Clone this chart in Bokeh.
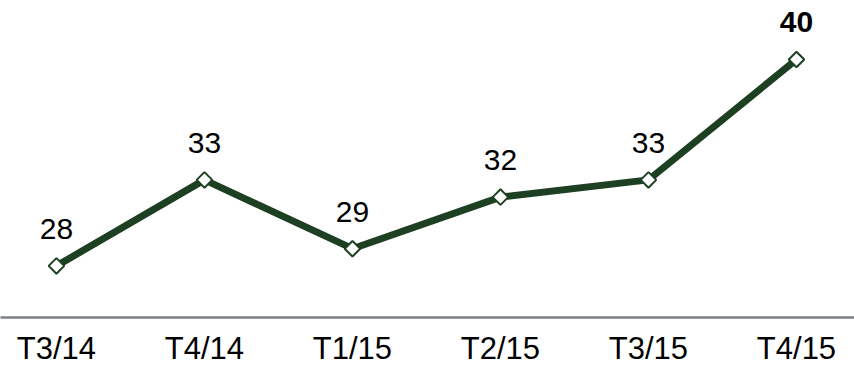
import math

from bokeh.core.properties import value
from bokeh.embed import file_html
from bokeh.models import ColumnDataSource, FixedTicker, Range1d
from bokeh.plotting import figure
from bokeh.resources import INLINE

# Quarterly series
quarters = ["T3/14", "T4/14", "T1/15", "T2/15", "T3/15", "T4/15"]
scores = [28, 33, 29, 32, 33, 40]

xs = list(range(len(quarters)))
labels = [str(v) for v in scores]

line_color = "#1d3f22"
font = "Liberation Sans"

src = ColumnDataSource(dict(x=xs, y=scores, label=labels))
last = ColumnDataSource(dict(x=xs[-1:], y=scores[-1:], label=labels[-1:]))
rest = ColumnDataSource(dict(x=xs[:-1], y=scores[:-1], label=labels[:-1]))

p = figure(
    width=854,
    height=368,
    output_backend="svg",
    toolbar_location=None,
    min_border=0,
    x_range=Range1d(-0.378, 5.392),
    y_range=Range1d(25.0, 43.43),
)
p.outline_line_color = None
p.background_fill_color = "white"
p.border_fill_color = "white"
p.grid.visible = False
p.yaxis.visible = False

# Category axis along the bottom: grey baseline, no tick marks
ax = p.xaxis[0]
ax.ticker = FixedTicker(ticks=xs)
ax.major_label_overrides = {i: q for i, q in zip(xs, quarters)}
ax.axis_line_color = "#7b8086"
ax.axis_line_width = 2.5
ax.major_tick_line_color = None
ax.minor_tick_line_color = None
ax.major_tick_out = 0
ax.major_tick_in = 0
ax.minor_tick_out = 0
ax.major_label_standoff = 13
ax.major_label_text_font = font
ax.major_label_text_font_size = "31px"
ax.major_label_text_color = "black"

p.line("x", "y", source=src, line_color=line_color, line_width=7)
p.scatter("x", "y", source=src, marker="square", angle=math.pi / 4,
          size=11, fill_color="white", line_color=line_color, line_width=2)

# Value labels above each point; the latest quarter is bold
p.text("x", "y", text="label", source=rest, y_offset=-37,
       text_align="center", text_baseline="middle",
       text_font=value(font), text_font_size="30px", text_color="black")
p.text("x", "y", text="label", source=last, y_offset=-37,
       text_align="center", text_baseline="middle",
       text_font=value(font), text_font_size="30px", text_font_style="bold",
       text_color="black")

open("out.html", "w").write(file_html(p, INLINE))
